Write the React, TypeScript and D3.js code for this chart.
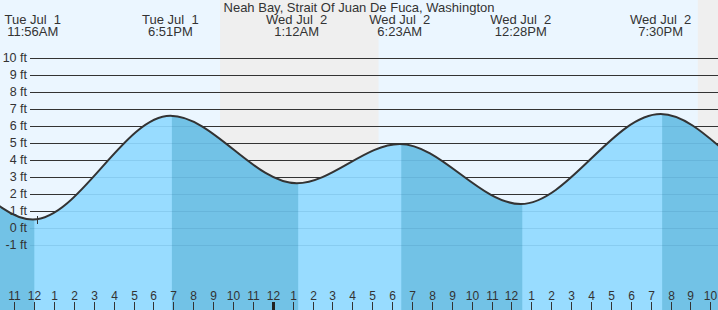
import React, { useEffect, useRef } from "react";
import * as d3 from "d3";

// tide extremes (the outer two on each side are off-screen estimates so the curve runs to the edges)
const tideTimes = [
  "2025-06-30T23:50",
  "2025-07-01T05:40",
  "2025-07-01T11:56",
  "2025-07-01T18:51",
  "2025-07-02T01:12",
  "2025-07-02T06:23",
  "2025-07-02T12:28",
  "2025-07-02T19:30",
  "2025-07-03T01:55",
  "2025-07-03T07:10",
];
const tideHeights = [2.9, 5.0, 0.52, 6.62, 2.65, 4.96, 1.43, 6.72, 2.4, 4.9];

// sunset / sunrise times for the day-night shading
const nightStarts = ["2025-07-01T21:21", "2025-07-02T21:22"];
const nightEnds = ["2025-07-02T05:19", "2025-07-03T05:19"];

const nowTime = "2025-07-01T12:09";
const viewStart = "2025-07-01T10:17";
const viewEnd = "2025-07-02T22:23";

const feetTicks = [-1, 0, 1, 2, 3, 4, 5, 6, 7, 8, 9, 10];
const title = "Neah Bay, Strait Of Juan De Fuca, Washington";

const width = 718;
const height = 310;

const parse = d3.utcParse("%Y-%m-%dT%H:%M");

export default function App() {
  const ref = useRef<SVGSVGElement>(null);

  useEffect(() => {
    const svg = d3.select(ref.current);
    svg.selectAll("*").remove();

    const x = d3.scaleUtc().domain([parse(viewStart)!, parse(viewEnd)!]).range([0, width]);
    const y = d3.scaleLinear().domain([0, 10]).range([228.3, 58.3]);

    const tide = tideTimes.map((t, i) => ({ t: parse(t)!, h: tideHeights[i] }));

    // day / night backgrounds
    svg.append("rect").attr("width", width).attr("height", height).attr("fill", "#ebf6ff");
    nightStarts.forEach((s, i) => {
      const x0 = Math.max(0, x(parse(s)!));
      const x1 = Math.min(width, x(parse(nightEnds[i])!));
      svg.append("rect")
        .attr("x", x0).attr("y", 0)
        .attr("width", Math.max(0, x1 - x0)).attr("height", height)
        .attr("fill", "#efefef");
    });

    // grid lines
    const grid = svg.append("g");
    feetTicks.forEach((f) => {
      grid.append("line")
        .attr("x1", 30).attr("x2", width)
        .attr("y1", Math.round(y(f)) + 0.5).attr("y2", Math.round(y(f)) + 0.5)
        .attr("stroke", "#333").attr("stroke-width", 1);
    });

    // water
    const area = d3.area<{ t: Date; h: number }>()
      .x((d) => x(d.t))
      .y0(height)
      .y1((d) => y(d.h))
      .curve(d3.curveMonotoneX);
    const line = d3.line<{ t: Date; h: number }>()
      .x((d) => x(d.t))
      .y((d) => y(d.h))
      .curve(d3.curveMonotoneX);

    svg.append("clipPath").attr("id", "water")
      .append("path").attr("d", area(tide)!);

    const water = svg.append("g").attr("clip-path", "url(#water)");
    water.append("rect").attr("width", width).attr("height", height).attr("fill", "#98dcff");
    // falling tide bands (high to low)
    for (let i = 0; i < tide.length - 1; i++) {
      if (tide[i].h > tide[i + 1].h) {
        const x0 = x(tide[i].t) + 1.5;
        const x1 = x(tide[i + 1].t) + 1.5;
        water.append("rect")
          .attr("x", x0).attr("y", 0)
          .attr("width", x1 - x0).attr("height", height)
          .attr("fill", "#72c2e6");
      }
    }
    feetTicks.forEach((f) => {
      water.append("line")
        .attr("x1", 30).attr("x2", width)
        .attr("y1", Math.round(y(f)) + 0.5).attr("y2", Math.round(y(f)) + 0.5)
        .attr("stroke", "#1a5a80").attr("stroke-opacity", 0.12);
    });

    svg.append("path")
      .attr("d", line(tide)!)
      .attr("fill", "none")
      .attr("stroke", "#333")
      .attr("stroke-width", 2);

    // now marker
    const nx = Math.round(x(parse(nowTime)!)) + 0.5;
    svg.append("line")
      .attr("x1", nx).attr("x2", nx)
      .attr("y1", 216).attr("y2", 224)
      .attr("stroke", "#333").attr("stroke-width", 1);

    // y labels
    svg.append("g").selectAll("text")
      .data(feetTicks)
      .enter()
      .append("text")
      .attr("x", 27)
      .attr("y", (d) => y(d) + 4)
      .attr("text-anchor", "end")
      .attr("font-size", 12.5)
      .attr("fill", "#333")
      .text((d) => d + " ft");

    // hour ticks along the bottom
    const hours = x.ticks(d3.utcHour.every(1)!);
    const hourFmt = d3.utcFormat("%-I");
    const bottom = svg.append("g");
    hours.forEach((h) => {
      const hx = Math.round(x(h)) + 0.5;
      const midnight = h.getUTCHours() === 0;
      bottom.append("line")
        .attr("x1", hx).attr("x2", hx)
        .attr("y1", 302).attr("y2", height)
        .attr("stroke", midnight ? "#222" : "#333")
        .attr("stroke-width", midnight ? 3 : 1);
      bottom.append("text")
        .attr("x", hx)
        .attr("y", 300)
        .attr("text-anchor", "middle")
        .attr("font-size", 12)
        .attr("fill", "#333")
        .text(hourFmt(h));
    });

    // tide extreme labels at the top
    const dayFmt = d3.utcFormat("%a %b %e");
    const timeFmt = d3.utcFormat("%-I:%M%p");
    tide.filter((d) => d.t >= x.domain()[0] && d.t <= x.domain()[1]).forEach((d) => {
      const tx = x(d.t);
      const g = svg.append("g").attr("font-size", 13).attr("fill", "#333").attr("text-anchor", "middle");
      g.append("text").attr("x", tx).attr("y", 24).style("white-space", "pre").text(dayFmt(d.t));
      g.append("text").attr("x", tx).attr("y", 36).text(timeFmt(d.t));
    });

    svg.append("text")
      .attr("x", width / 2)
      .attr("y", 12)
      .attr("text-anchor", "middle")
      .attr("font-size", 13)
      .attr("fill", "#333")
      .text(title);
  }, []);

  return (
    <svg
      ref={ref}
      width={width}
      height={height}
      style={{ position: "absolute", left: 0, top: 0, fontFamily: "'Liberation Sans', Arial, sans-serif" }}
    />
  );
}
